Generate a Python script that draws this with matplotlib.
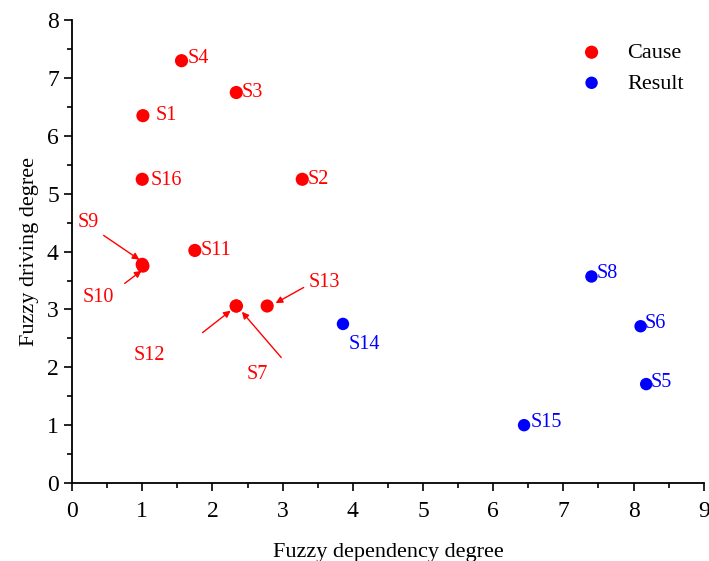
import matplotlib
matplotlib.use("Agg")
import matplotlib.pyplot as plt
from matplotlib.ticker import MultipleLocator

plt.rcParams['font.family'] = ['Liberation Serif', 'DejaVu Serif']

cause_names = ["S1", "S2", "S3", "S4", "S7", "S9", "S10", "S11", "S12", "S13", "S16"]
cause_x = [1.01, 3.28, 2.34, 1.56, 2.34, 1.00, 1.01, 1.75, 2.34, 2.78, 1.00]
cause_y = [6.35, 5.25, 6.75, 7.30, 3.06, 3.78, 3.75, 4.02, 3.06, 3.06, 5.25]

result_names = ["S5", "S6", "S8", "S14", "S15"]
result_x = [8.18, 8.10, 7.40, 3.86, 6.44]
result_y = [1.71, 2.71, 3.57, 2.75, 1.00]

x_ticks = list(range(0, 10))
y_ticks = list(range(0, 9))

fig = plt.figure(figsize=(7.09, 5.61), dpi=100)
ax = fig.add_axes([0.1016, 0.139, 0.891, 0.825])

ax.scatter(cause_x, cause_y, s=90, color='#ff0000', edgecolors='none', label='Cause', zorder=3)
ax.scatter(result_x, result_y, s=80, color='#0000ff', edgecolors='none', label='Result', zorder=3)

red = '#ff0000'
blue = '#0000ff'
fs = 14.5

simple = {
    "S1": (0.18, 0.0), "S2": (0.08, 0.0), "S3": (0.08, 0.0), "S4": (0.08, 0.03),
    "S11": (0.08, 0.0), "S16": (0.12, -0.02),
}
for n, x, y in zip(cause_names, cause_x, cause_y):
    if n in simple:
        dx, dy = simple[n]
        ax.text(x + dx, y + dy, n, color=red, fontsize=fs, va='center', ha='left')

rsimple = {"S5": (0.06, 0.03), "S6": (0.06, 0.05), "S8": (0.08, 0.05), "S15": (0.1, 0.05)}
for n, x, y in zip(result_names, result_x, result_y):
    if n in rsimple:
        dx, dy = rsimple[n]
        ax.text(x + dx, y + dy, n, color=blue, fontsize=fs, va='center', ha='left')
    elif n == "S14":
        ax.text(x + 0.08, y - 0.36, n, color=blue, fontsize=fs, va='center', ha='left')

arrow = dict(arrowstyle='-|>', color=red, lw=1.0, mutation_scale=10, shrinkA=0, shrinkB=0)
ci = {n: (x, y) for n, x, y in zip(cause_names, cause_x, cause_y)}
ax.annotate("", xy=(ci["S9"][0] - 0.04, ci["S9"][1] + 0.08), xytext=(0.45, 4.28), arrowprops=arrow)
ax.text(0.23, 4.5, "S9", color=red, fontsize=fs, ha='center', va='center')
ax.annotate("", xy=(ci["S10"][0] - 0.02, ci["S10"][1] - 0.08), xytext=(0.75, 3.45), arrowprops=arrow)
ax.text(0.38, 3.2, "S10", color=red, fontsize=fs, ha='center', va='center')
ax.annotate("", xy=(ci["S12"][0] - 0.08, ci["S12"][1] - 0.08), xytext=(1.86, 2.6), arrowprops=arrow)
ax.text(1.1, 2.2, "S12", color=red, fontsize=fs, ha='center', va='center')
ax.annotate("", xy=(ci["S7"][0] + 0.08, ci["S7"][1] - 0.1), xytext=(2.98, 2.17), arrowprops=arrow)
ax.text(2.64, 1.88, "S7", color=red, fontsize=fs, ha='center', va='center')
ax.annotate("", xy=(ci["S13"][0] + 0.12, ci["S13"][1] + 0.05), xytext=(3.3, 3.38), arrowprops=arrow)
ax.text(3.6, 3.47, "S13", color=red, fontsize=fs, ha='center', va='center')

ax.set_xlim(0, 9)
ax.set_ylim(0, 8)
ax.set_xticks(x_ticks)
ax.set_yticks(y_ticks)
ax.xaxis.set_minor_locator(MultipleLocator(0.5))
ax.yaxis.set_minor_locator(MultipleLocator(0.5))
ax.tick_params(which='major', direction='out', length=6, width=1.2, labelsize=17)
ax.tick_params(axis='x', which='major', pad=7)
ax.tick_params(which='minor', direction='out', length=3.5, width=1.2)
for s in ['top', 'right']:
    ax.spines[s].set_visible(False)
for s in ['left', 'bottom']:
    ax.spines[s].set_linewidth(1.3)

ax.set_xlabel("Fuzzy dependency degree", fontsize=16, labelpad=15)
ax.set_ylabel("Fuzzy driving degree", fontsize=16, labelpad=6)

ax.legend(loc='upper right', frameon=False, fontsize=16, handletextpad=0.6,
          bbox_to_anchor=(1.0, 0.995), markerscale=1.0, labelspacing=0.45)

fig.savefig("out.png", dpi=100)
